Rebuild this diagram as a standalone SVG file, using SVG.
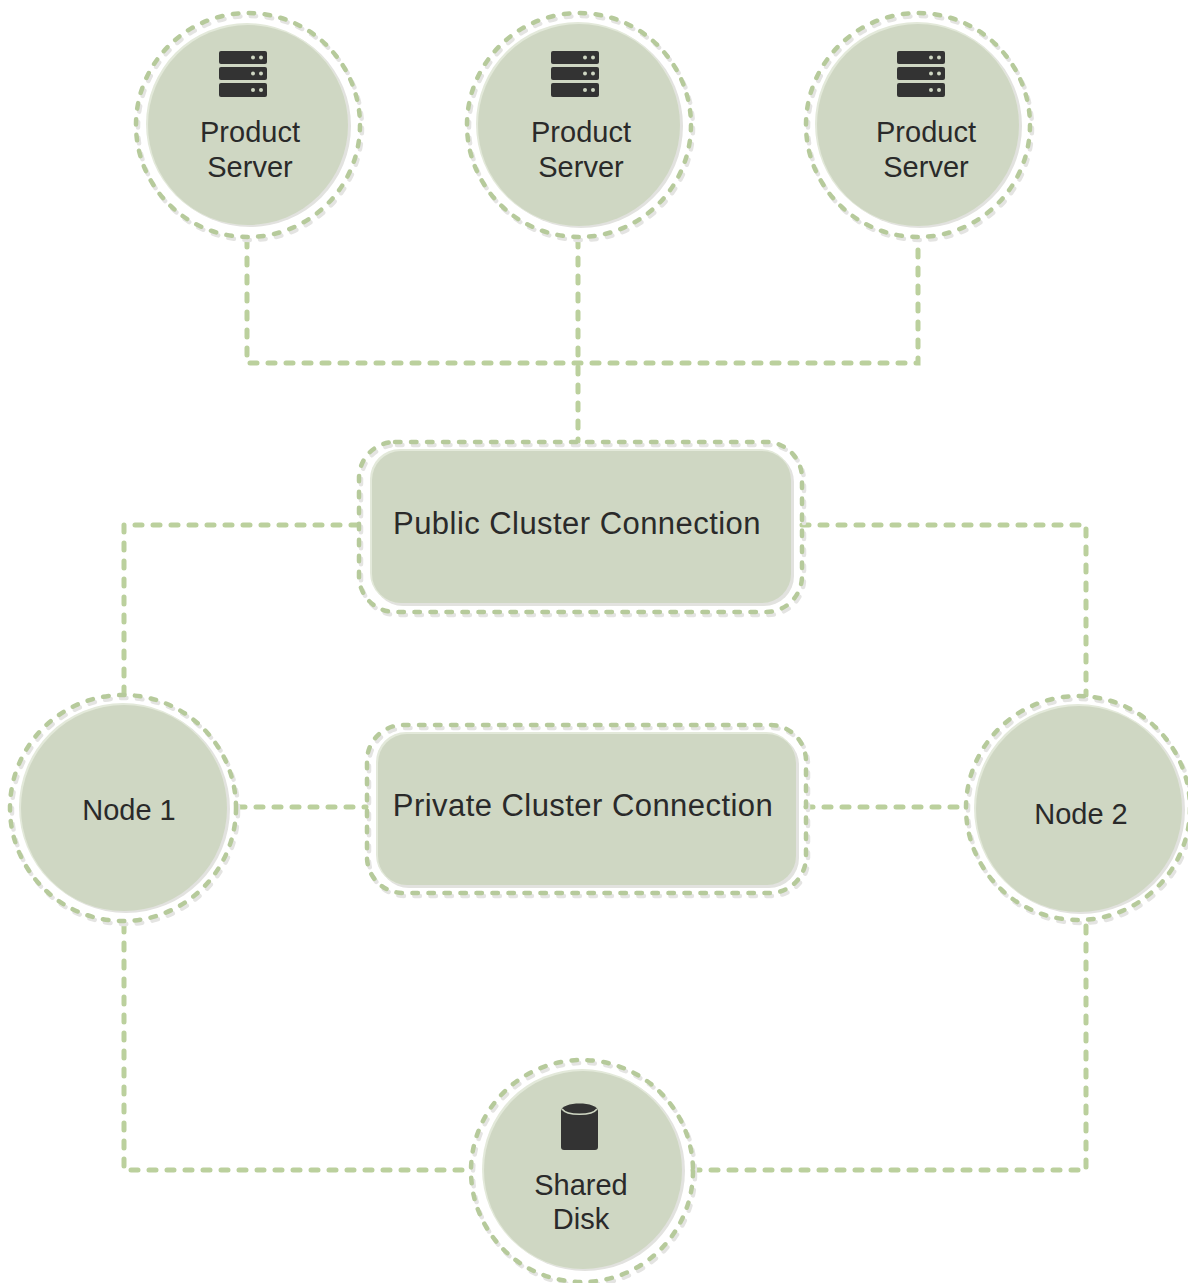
<svg xmlns="http://www.w3.org/2000/svg" width="1188" height="1283" viewBox="0 0 1188 1283">
<defs>
<style>
.fill{fill:#cfd7c3}
.hi{fill:#e3e9da}
.lo{fill:#e2e2df}
.shadow{fill:none;stroke:#e4e4e2;stroke-width:4.5;stroke-dasharray:5.500 10.500;stroke-linecap:round}
.ring{fill:none;stroke:#b6ca9b;stroke-width:4.500;stroke-dasharray:5.500 10.500;stroke-linecap:round}
.conn{fill:none;stroke:#bbd09d;stroke-width:5;stroke-dasharray:7 11;stroke-linecap:round}
text{font-family:"Liberation Sans",Arial,sans-serif;fill:#2a2a2a;text-anchor:middle}
.t1{font-size:29px}
.t2{font-size:31px;letter-spacing:.45px}
.ico{fill:#333}
.led{fill:#cfd7c3}
</style>
<g id="srv">
<rect class="ico" x="-24" y="0" width="48" height="13" rx="2"/>
<rect class="ico" x="-24" y="16" width="48" height="13" rx="2"/>
<rect class="ico" x="-24" y="32" width="48" height="14" rx="2"/>
<circle class="led" cx="10" cy="6.500" r="2"/><circle class="led" cx="18" cy="6.500" r="2"/>
<circle class="led" cx="10" cy="22.500" r="2"/><circle class="led" cx="18" cy="22.500" r="2"/>
<circle class="led" cx="10" cy="39" r="2"/><circle class="led" cx="18" cy="39" r="2"/>
</g>
</defs>
<rect width="1188" height="1283" fill="#ffffff"/>
<g id="connectors">
<path class="conn" d="M247 240V363H918V240"/>
<path class="conn" d="M578 240V363"/>
<path class="conn" d="M578 367V441"/>
<path class="conn" d="M358 525H124V695"/>
<path class="conn" d="M802 525H1086V695"/>
<path class="conn" d="M238 807H366"/>
<path class="conn" d="M806 807H966"/>
<path class="conn" d="M124 925V1170H470"/>
<path class="conn" d="M693 1170H1086V925"/>
</g>
<g id="server1">
<circle class="shadow" cx="250" cy="128" r="112"/><circle class="ring" cx="248" cy="125" r="112"/>
<circle class="lo" cx="250" cy="126" r="101"/><circle class="hi" cx="247" cy="124" r="101"/><circle class="fill" cx="248" cy="125" r="100"/>
<use href="#srv" x="243" y="51"/>
<text class="t1" x="250" y="142">Product</text><text class="t1" x="250" y="177">Server</text>
</g>
<g id="server2">
<circle class="shadow" cx="581" cy="128" r="112"/><circle class="ring" cx="579" cy="125" r="112"/>
<circle class="lo" cx="581" cy="126" r="102"/><circle class="hi" cx="578" cy="124" r="102"/><circle class="fill" cx="579" cy="125" r="101"/>
<use href="#srv" x="575" y="51"/>
<text class="t1" x="581" y="142">Product</text><text class="t1" x="581" y="177">Server</text>
</g>
<g id="server3">
<circle class="shadow" cx="920" cy="128" r="112"/><circle class="ring" cx="918" cy="125" r="112"/>
<circle class="lo" cx="920" cy="126" r="102"/><circle class="hi" cx="917" cy="124" r="102"/><circle class="fill" cx="918" cy="125" r="101"/>
<use href="#srv" x="921" y="51"/>
<text class="t1" x="926" y="142">Product</text><text class="t1" x="926" y="177">Server</text>
</g>
<g id="public">
<rect class="shadow" x="361" y="445" width="443" height="170" rx="36"/>
<rect class="ring" x="359" y="442" width="443" height="170" rx="36"/>
<rect class="lo" x="373" y="452" width="421" height="154" rx="30"/>
<rect class="hi" x="370" y="449" width="421" height="154" rx="30"/>
<rect class="fill" x="372" y="451" width="419" height="152" rx="29"/>
<text class="t2" x="577" y="534">Public Cluster Connection</text>
</g>
<g id="private">
<rect class="shadow" x="369" y="728" width="439" height="168" rx="36"/>
<rect class="ring" x="367" y="725" width="439" height="168" rx="36"/>
<rect class="lo" x="379" y="735" width="420" height="153" rx="30"/>
<rect class="hi" x="376" y="732" width="420" height="153" rx="30"/>
<rect class="fill" x="378" y="734" width="418" height="151" rx="29"/>
<text class="t2" x="583" y="816">Private Cluster Connection</text>
</g>
<g id="node1">
<circle class="shadow" cx="125" cy="811" r="113"/><circle class="ring" cx="123" cy="808" r="113"/>
<circle class="lo" cx="126" cy="809" r="104"/><circle class="hi" cx="123" cy="807" r="104"/><circle class="fill" cx="124" cy="808" r="103"/>
<text class="t1" x="129" y="820">Node 1</text>
</g>
<g id="node2">
<circle class="shadow" cx="1080" cy="811" r="112"/><circle class="ring" cx="1078" cy="808" r="112"/>
<circle class="lo" cx="1081" cy="810" r="104"/><circle class="hi" cx="1078" cy="808" r="104"/><circle class="fill" cx="1079" cy="809" r="103"/>
<text class="t1" x="1081" y="824">Node 2</text>
</g>
<g id="disk">
<circle class="shadow" cx="584" cy="1174" r="111"/><circle class="ring" cx="582" cy="1171" r="111"/>
<circle class="lo" cx="585" cy="1171" r="100"/><circle class="hi" cx="582" cy="1169" r="100"/><circle class="fill" cx="583" cy="1170" r="99"/>
<path class="ico" d="M561 1111c0-10 37-10 37 0v36q0 3-3 3h-31q-3 0-3-3z"/>
<path d="M562 1109c5 7 30 7 35 0" fill="none" stroke="#cfd7c3" stroke-width="1.500"/>
<text class="t1" x="581" y="1195">Shared</text><text class="t1" x="581" y="1229">Disk</text>
</g>
</svg>
